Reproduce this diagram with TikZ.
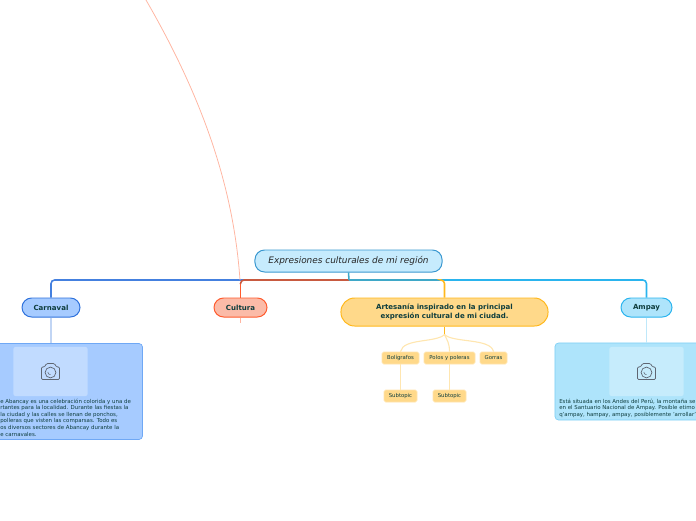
\documentclass[tikz,border=0pt]{standalone}
\usepackage{fontspec}
\setmainfont{DejaVu Sans}
\usetikzlibrary{positioning,calc}
\definecolor{inkcol}{HTML}{0E3D3D}
\definecolor{rootfill}{HTML}{C6EBFD}
\definecolor{rootline}{HTML}{3A98D0}
\definecolor{carnfill}{HTML}{A6CBFF}
\definecolor{carnline}{HTML}{2F72DC}
\definecolor{carnedge}{HTML}{6FA8F5}
\definecolor{cultfill}{HTML}{FBBBA8}
\definecolor{cultline}{HTML}{FF5B2E}
\definecolor{cultdark}{HTML}{C85A40}
\definecolor{artefill}{HTML}{FFD98A}
\definecolor{arteline}{HTML}{FFB81C}
\definecolor{ampfill}{HTML}{AEE4FB}
\definecolor{ampline}{HTML}{2AB4EE}
\definecolor{ampedge}{HTML}{7FD0F5}
\definecolor{tealcol}{HTML}{3FA8C8}
\definecolor{iconcol}{HTML}{5F6672}
\tikzset{
    camera/.pic={
        \draw[draw=iconcol, line width=0.5pt, rounded corners=0.03cm]
            (-9,-4.5) -- (-6,-4.5) -- (-4,-8) -- (4,-8) -- (6,-4.5) -- (9,-4.5) -- (9,8) -- (-9,8) -- cycle;
        \draw[draw=iconcol, line width=0.5pt] (0,1) circle (5.4);
        \draw[draw=iconcol, line width=0.4pt] (-2.7,0.5) arc (180:90:2.7);
    },
}
\begin{document}
\begin{tikzpicture}[
    x=0.025cm, y=-0.025cm,
    topic/.style={rectangle, rounded corners=0.24cm, minimum height=0.475cm, inner sep=0pt, align=center, font=\fontsize{5}{6.4}\selectfont\bfseries, text=inkcol, draw, line width=0.7pt},
    subtopic/.style={rectangle, rounded corners=0.04cm, minimum height=0.3cm, inner sep=0pt, font=\fontsize{3.8}{4.5}\selectfont, text=inkcol, fill=artefill, draw=artefill!70!white, line width=0.5pt},
    card/.style={rectangle, rounded corners=0.09cm, minimum width=4.575cm, inner sep=0pt, line width=0.5pt, draw},
    photo/.style={rectangle, rounded corners=0.06cm, minimum width=1.86cm, minimum height=1.23cm, inner sep=0pt},
    cardtext/.style={anchor=north west, inner sep=0pt, align=left, font=\fontsize{3.87}{4.7}\selectfont, text=inkcol},
    branch/.style={rounded corners=0.09cm, line width=1.1pt},
    leaf/.style={line width=0.8pt, draw=arteline!35!white},
]
\useasboundingbox (0,0) rectangle (696,520);

\node[topic, fill=rootfill, draw=rootline, minimum width=4.675cm, minimum height=0.55cm, font=\fontsize{6.35}{8}\selectfont\itshape, text=black!85] (root) at (348.5,261) {Expresiones culturales de mi región};
\node[topic, fill=carnfill, draw=carnline, minimum width=1.45cm] (carnaval) at (51,307.5) {Carnaval};
\node[topic, fill=cultfill, draw=cultline, minimum width=1.325cm] (cultura) at (240.5,307.5) {Cultura};
\node[topic, fill=artefill, draw=arteline, minimum width=5.175cm, minimum height=0.7cm, rounded corners=0.34cm] (artesania) at (444.5,312) {Artesanía inspirado en la principal\\expresión cultural de mi ciudad.};
\node[topic, fill=ampfill, draw=ampline, minimum width=1.275cm] (ampay) at (646.5,307.5) {Ampay};

\node[subtopic, minimum width=0.925cm] (boli) at (400.5,358) {Bolígrafos};
\node[subtopic, minimum width=1.275cm] (polos) at (449.5,358) {Polos y poleras};
\node[subtopic, minimum width=0.675cm] (gorras) at (493.5,358) {Gorras};
\node[subtopic, minimum width=0.825cm] (subone) at (400.5,396) {Subtopic};
\node[subtopic, minimum width=0.825cm] (subtwo) at (449.5,396) {Subtopic};

\node[card, fill=carnfill, draw=carnedge, minimum height=2.4cm] (carncard) at (51,391.5) {};
\node[card, fill=ampfill, draw=ampedge, minimum height=1.925cm] (ampcard) at (646.5,381.5) {};
\node[photo, fill=carnfill!70!white] (carnphoto) at (50.5,371.5) {};
\node[photo, fill=ampfill!70!white] (ampphoto) at (646.5,371.5) {};
\pic at (carnphoto.center) {camera};
\pic at (ampphoto.center) {camera};

\node[cardtext] (carntext) at (0,398.5) {e Abancay es una celebración colorida y una de\\rtantes para la localidad. Durante las fiestas la\\la ciudad y las calles se llenan de ponchos,\\polleras que visten las comparsas. Todo es\\os diversos sectores de Abancay durante la\\e carnavales.};
\node[cardtext] (amptext) at (559,398.5) {Está situada en los Andes del Perú, la montaña se\\en el Santuario Nacional de Ampay. Posible etimo\\q'ampay, hampay, ampay, posiblemente 'arrollar'};

\coordinate (trunk) at (349,280);
\coordinate (artebend) at (441,280);
\coordinate (culttop) at (240.5,284);
\coordinate (curvestart) at (240,280);
\coordinate (curveend) at (146,0);
\coordinate (stubend) at (240.5,323);

% trunk lines
\draw[branch, draw=carnline!90!white] (trunk) -| (carnaval.north);
\draw[branch, draw=ampline] (trunk) -| (ampay.north);
\draw[branch, draw=tealcol] (trunk) -- (artebend);
\draw[branch, draw=arteline] (artebend) -| (artesania.north);
\draw[branch, draw=cultdark] (trunk) -| (culttop);
\draw[line width=1.1pt, draw=tealcol] (root.south) -- (trunk);
\draw[line width=1.1pt, draw=cultline] (culttop) -- (cultura.north);

\draw[line width=0.55pt, draw=cultline!45!white] (curvestart) .. controls (233,180) and (198,90) .. (curveend);
\draw[line width=0.8pt, draw=cultline!45!white] (cultura.south) -- (stubend);

\draw[line width=1.1pt, draw=carnline!30!white] (carnaval.south) -- (carncard.north);
\draw[line width=1.1pt, draw=ampline!30!white] (ampay.south) -- (ampcard.north);

\draw[line width=1.1pt, draw=arteline] (artesania.south) -- ++(0,8) coordinate (artefork);
\draw[leaf] (artefork) .. controls (436,343) and (403,338) .. (boli.north);
\draw[leaf] (artefork) .. controls (447,340) and (449.5,343) .. (polos.north);
\draw[leaf] (artefork) .. controls (453,343) and (491,338) .. (gorras.north);
\draw[leaf] (boli) -- (subone);
\draw[leaf] (polos) -- (subtwo);
\end{tikzpicture}
\end{document}
